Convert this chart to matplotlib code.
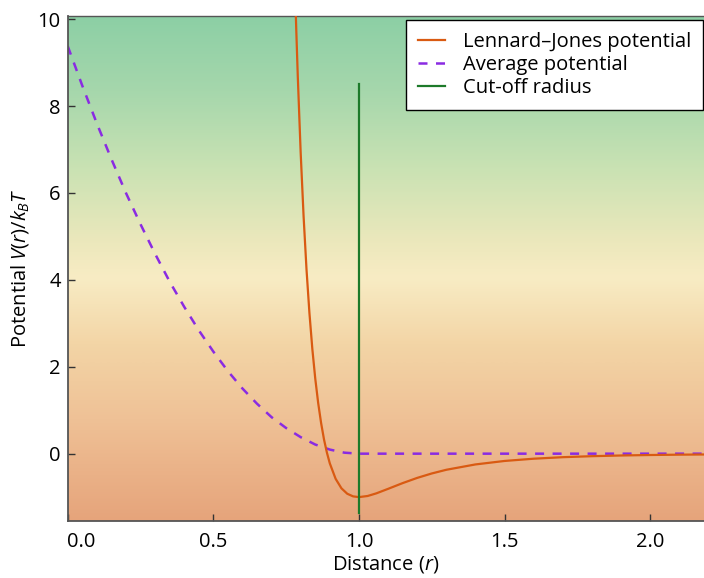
import matplotlib
matplotlib.use("Agg")
import matplotlib.pyplot as plt
import matplotlib.transforms as mtransforms
from matplotlib.colors import LinearSegmentedColormap
import numpy as np

plt.rcParams['font.family'] = ['Open Sans', 'DejaVu Sans']
plt.rcParams['mathtext.fontset'] = 'custom'
plt.rcParams['mathtext.rm'] = 'Open Sans'
plt.rcParams['mathtext.it'] = 'Open Sans:italic'

# Lennard-Jones potential
lj_r = [0.775, 0.78, 0.785, 0.79, 0.80, 0.81, 0.82, 0.83, 0.84, 0.85, 0.86, 0.87,
        0.88, 0.89, 0.90, 0.92, 0.94, 0.96, 0.98, 1.00, 1.03, 1.06, 1.10, 1.15,
        1.20, 1.25, 1.30, 1.40, 1.50, 1.60, 1.70, 1.80, 1.90, 2.00, 2.10, 2.20]
lj_v = [12.07, 10.83, 9.72, 8.69, 6.92, 5.46, 4.24, 3.24, 2.41, 1.73, 1.17, 0.71,
        0.33, 0.025, -0.223, -0.579, -0.798, -0.923, -0.983, -1.0, -0.974, -0.913, -0.810, -0.678,
        -0.558, -0.456, -0.371, -0.248, -0.168, -0.116, -0.081, -0.058, -0.042, -0.031, -0.023, -0.018]

# average potential (dashed)
avg_r = [0.00, 0.05, 0.10, 0.15, 0.20, 0.25, 0.30, 0.35, 0.40, 0.45, 0.50,
         0.55, 0.60, 0.65, 0.70, 0.75, 0.80, 0.85, 0.90, 0.95, 1.00, 2.20]
avg_v = [9.38, 8.47, 7.60, 6.78, 6.00, 5.28, 4.60, 3.96, 3.38, 2.84, 2.35,
         1.90, 1.50, 1.15, 0.84, 0.59, 0.38, 0.21, 0.094, 0.023, 0.0, 0.0]

# cut-off radius
cut_r = [1.0, 1.0]
cut_v = [-1.37, 8.5]

xticks = [0.0, 0.5, 1.0, 1.5, 2.0]
yticks = [0, 2, 4, 6, 8, 10]

fs = 14.5

fig = plt.figure(figsize=(7.04, 5.78), dpi=100)
ax = fig.add_axes([0.0962, 0.0986, 0.9038, 0.8742])
xlim = (0.0, 2.185)
ylim = (-1.55, 10.08)

bg = LinearSegmentedColormap.from_list('bg', [
    (0.0, '#8ccfa5'), (0.15, '#a6d7ac'), (0.3, '#c9e2b3'), (0.45, '#ece8bc'),
    (0.52, '#f8ecc4'), (0.65, '#f3d5a6'), (0.8, '#efc196'), (1.0, '#e6a47b')])
ax.imshow(np.linspace(0, 1, 256).reshape(-1, 1), cmap=bg, aspect='auto',
          extent=[xlim[0], xlim[1], ylim[0], ylim[1]], zorder=0, interpolation='bicubic')

ax.plot(lj_r, lj_v, color='#d95a12', lw=1.6, label='Lennard\u2013Jones potential', zorder=3)
ax.plot(avg_r, avg_v, color='#8a2be2', lw=1.8, dashes=(3.6, 3.4), label='Average potential', zorder=2)
ax.plot(cut_r, cut_v, color='#1d7a2a', lw=1.6, label='Cut-off radius', zorder=4)

ax.set_xlim(*xlim)
ax.set_ylim(*ylim)
ax.set_xticks(xticks)
ax.set_xticklabels(['%.1f' % t for t in xticks])
ax.set_yticks(yticks)

for side in ['left', 'bottom', 'top']:
    ax.spines[side].set_color('#555555')
ax.spines['left'].set_linewidth(1.3)
ax.spines['bottom'].set_linewidth(1.3)
ax.spines['top'].set_linewidth(1.0)
ax.spines['right'].set_visible(False)

ax.tick_params(direction='in', length=5, width=1, color='#333333', labelsize=fs, pad=5)
ax.tick_params(axis='x', pad=8)

# the 0.0 label sits a bit to the right, away from the corner
lbl = ax.get_xticklabels()[0]
lbl.set_transform(lbl.get_transform() + mtransforms.ScaledTranslation(13 / 100, 0, fig.dpi_scale_trans))

ax.set_xlabel('Distance ($r$)', fontsize=fs, labelpad=1)
ax.set_ylabel('Potential $V(r)/k_BT$', fontsize=fs, labelpad=5)

leg = ax.legend(loc='upper right', bbox_to_anchor=(703 / 704, 1 - 20 / 578),
                bbox_transform=fig.transFigure, borderaxespad=0, fontsize=fs,
                fancybox=False, framealpha=1, edgecolor='black', handlelength=1.3,
                handletextpad=0.9, labelspacing=0.15, borderpad=0.6)
leg.get_frame().set_linewidth(1.0)

fig.savefig('out.png', dpi=100)
